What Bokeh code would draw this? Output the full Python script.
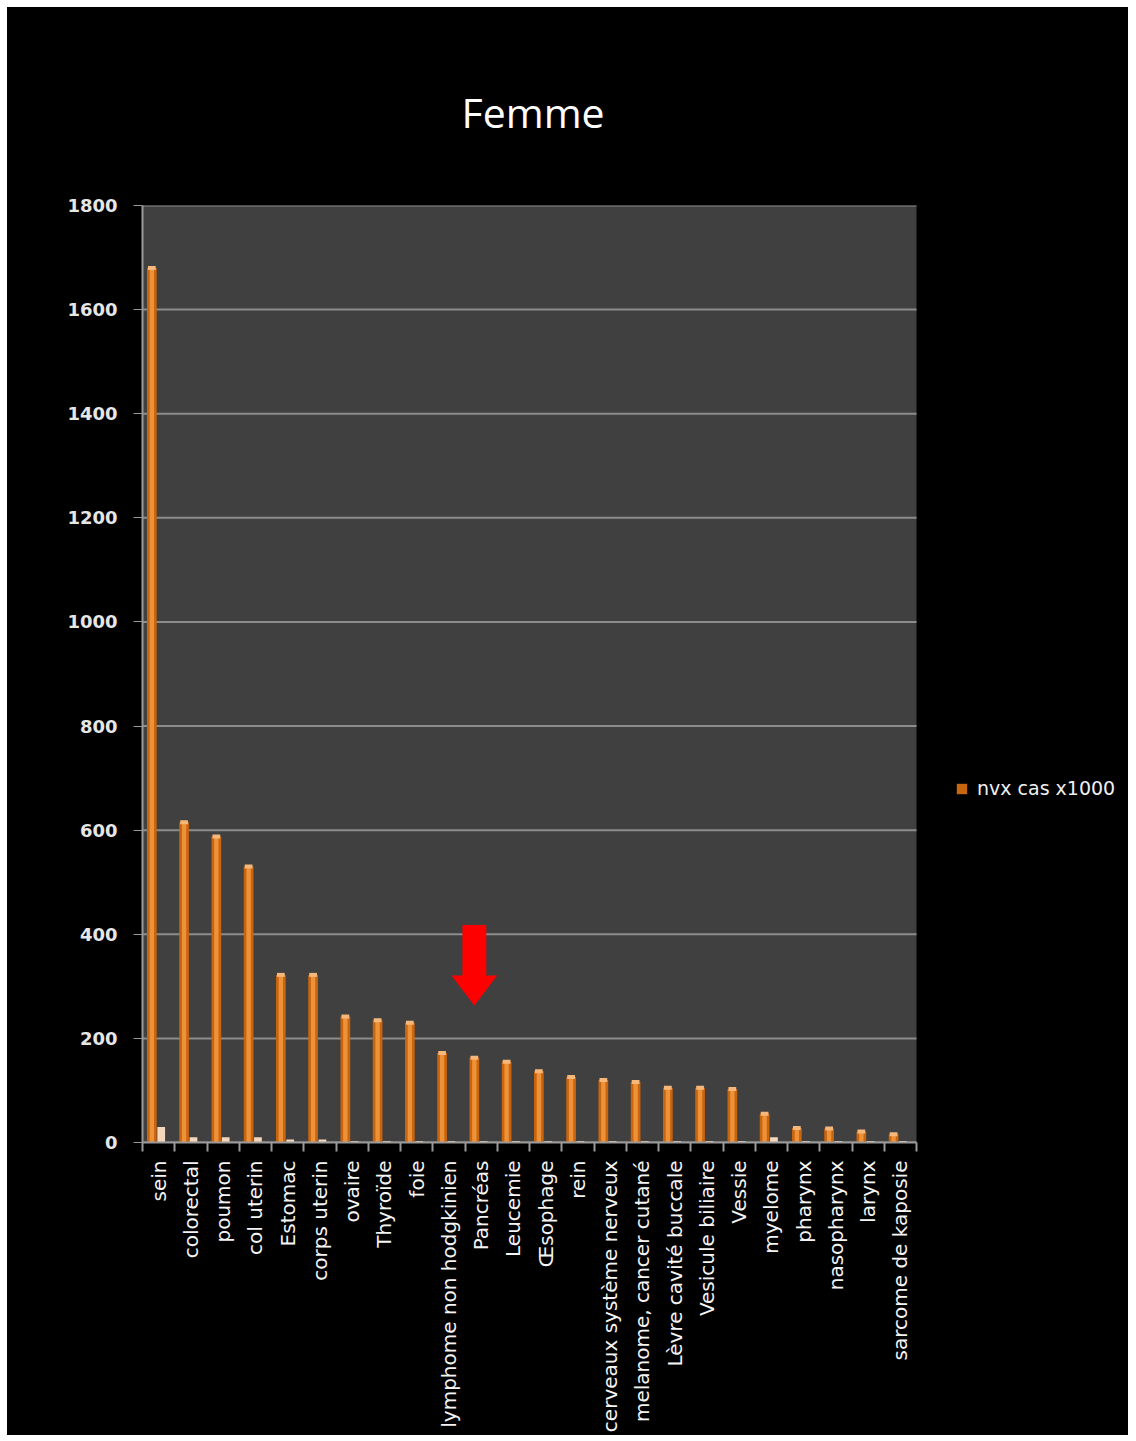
import math
from bokeh.plotting import figure
from bokeh.models import (Range1d, FixedTicker, ColumnDataSource, Legend, LegendItem, Title)
from bokeh.embed import file_html
from bokeh.resources import INLINE

categories = ["sein", "colorectal", "poumon", "col uterin", "Estomac", "corps uterin",
              "ovaire", "Thyroïde", "foie", "lymphome non hodgkinien", "Pancréas",
              "Leucemie", "Œsophage", "rein", "cerveaux système nerveux",
              "melanome, cancer cutané", "Lèvre cavité buccale", "Vesicule biliaire",
              "Vessie", "myelome", "pharynx", "nasopharynx", "larynx", "sarcome de kaposie"]
nvx_cas = [1680, 615, 588, 530, 322, 322, 242, 235, 230, 172, 163, 155, 137, 126,
           120, 116, 105, 105, 103, 55, 28, 27, 21, 16]
serie2 = [30, 10, 10, 10, 6, 6, 3, 3, 3, 3, 3, 3, 3, 3, 3, 3, 3, 3, 3, 10, 3, 3, 3, 3]
y_ticks = [0, 200, 400, 600, 800, 1000, 1200, 1400, 1600, 1800]
highlight = "Pancréas"

n = len(categories)
centers = [i + 0.5 for i in range(n)]
off1, off2 = -0.21, 0.08

# layout (pixels): plotting area is 774 px wide, frame extends to the right edge
area_w, frame_w, frame_h = 774, 986, 937
x_end = n * frame_w / area_w
y_max = y_ticks[-1]

src = ColumnDataSource(dict(
    x1=[c + off1 for c in centers], x2=[c + off2 for c in centers],
    top1=nvx_cas, top2=serie2, cat=categories))

p = figure(width=1121, height=1428, output_backend="svg", toolbar_location=None,
           x_range=Range1d(0, x_end), y_range=Range1d(0, y_max),
           background_fill_color="#000000", border_fill_color="#000000",
           min_border_left=135, min_border_right=0, min_border_top=198,
           min_border_bottom=293, outline_line_color=None)
p.margin = (7, 8, 6, 7)
p.styles = {"background-color": "#000000"}

p.title = Title(text="Femme", align="left", offset=319, text_color="#FFFFFF",
                text_font="Open Sans", text_font_size="41px", text_font_style="normal",
                standoff=131)

# plotting area background and grid lines (only over the category span)
p.quad(left=[0], right=[n], bottom=[0], top=[y_max], fill_color="#404040",
       line_color=None)
p.xgrid.grid_line_color = None
p.ygrid.grid_line_color = None
p.segment(x0=[0] * len(y_ticks), x1=[n] * len(y_ticks), y0=y_ticks, y1=y_ticks,
          line_color="#8C8C8C", line_width=2)

# y axis
ya = p.yaxis[0]
ya.ticker = FixedTicker(ticks=y_ticks)
ya.axis_line_color = "#9A9A9A"
ya.axis_line_width = 2
ya.major_tick_line_color = "#9A9A9A"
ya.major_tick_out = 9
ya.major_tick_in = 0
ya.minor_tick_line_color = None
ya.major_label_text_color = "#E6E6E6"
ya.major_label_text_font = "DejaVu Sans"
ya.major_label_text_font_style = "bold"
ya.major_label_text_font_size = "18px"
ya.major_label_standoff = 16

# x axis
xa = p.xaxis[0]
xa.bounds = (0, n)
xa.ticker = FixedTicker(ticks=centers, minor_ticks=list(range(n + 1)))
xa.major_label_overrides = {c: lab for c, lab in zip(centers, categories)}
xa.major_label_orientation = math.pi / 2
xa.axis_line_color = "#9A9A9A"
xa.axis_line_width = 2
xa.major_tick_line_color = None
xa.major_tick_out = 0
xa.major_tick_in = 0
xa.minor_tick_line_color = "#9A9A9A"
xa.minor_tick_line_width = 2
xa.minor_tick_out = 9
xa.minor_tick_in = 0
xa.major_label_text_color = "#F4F4F4"
xa.major_label_text_font = "DejaVu Sans"
xa.major_label_text_font_size = "20px"
xa.major_label_standoff = 9

# bars
bw = 0.3
r1 = p.vbar(x="x1", top="top1", width=bw, source=src, fill_color="#C8650F",
            line_color=None)
p.vbar(x="x1", top="top1", width=bw * 0.45, source=src, fill_color="#F59A42",
       line_color=None, fill_alpha=0.85)
p.rect(x="x1", y="top1", width=bw * 0.8, height=4, height_units="screen", source=src,
       fill_color="#F6B77A", line_color=None)
p.vbar(x="x2", top="top2", width=0.24, source=src, fill_color="#F3D6BC",
       line_color=None)

# red arrow above the highlighted category
hi = categories.index(highlight)
ax = centers[hi] + off1
base = nvx_cas[hi]
tip, head_base, shaft_top = base + 100, base + 158, base + 255
hw, sw = 0.71, 0.37
p.patch(x=[ax - sw, ax + sw, ax + sw, ax + hw, ax, ax - hw, ax - sw],
        y=[shaft_top, shaft_top, head_base, head_base, tip, head_base, head_base],
        fill_color="#FF0000", line_color=None)

legend = Legend(items=[LegendItem(label="nvx cas x1000", renderers=[r1])],
                location=(813, 343), background_fill_color="#000000",
                background_fill_alpha=1, border_line_color=None,
                label_text_color="#F0F0F0", label_text_font="DejaVu Sans",
                label_text_font_size="19px", glyph_width=13, glyph_height=13,
                label_standoff=9, padding=0, margin=0, spacing=0)
p.add_layout(legend)

open("out.html", "w").write(file_html(p, INLINE))
